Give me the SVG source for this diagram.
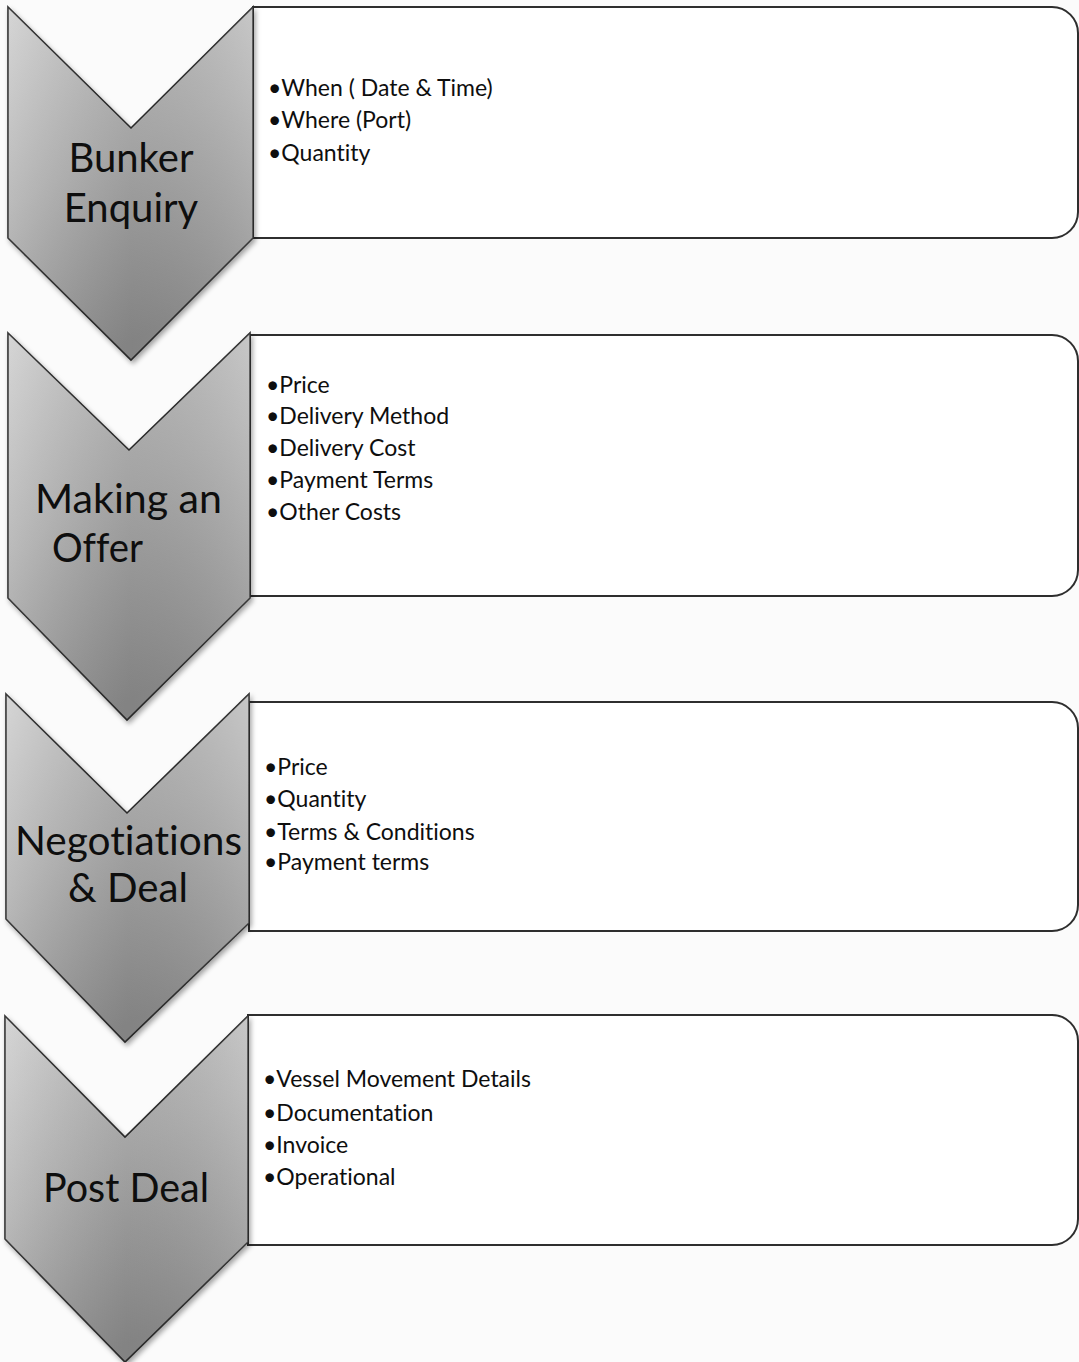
<svg xmlns="http://www.w3.org/2000/svg" width="1079" height="1362" viewBox="0 0 1079 1362">
  <defs>
    <linearGradient id="chev" x1="0" y1="0" x2="0.35" y2="1">
      <stop offset="0" stop-color="#d0d0d0"/>
      <stop offset="0.5" stop-color="#b2b2b2"/>
      <stop offset="1" stop-color="#8e8e8e"/>
    </linearGradient>
    <linearGradient id="streak" x1="0" y1="0" x2="1" y2="0">
      <stop offset="0" stop-color="#ffffff" stop-opacity="0.12"/>
      <stop offset="0.5" stop-color="#000000" stop-opacity="0.08"/>
      <stop offset="1" stop-color="#ffffff" stop-opacity="0.15"/>
    </linearGradient>
    <filter id="shadow" x="-10%" y="-10%" width="130%" height="130%">
      <feDropShadow dx="2" dy="3" stdDeviation="2.5" flood-color="#000" flood-opacity="0.35"/>
    </filter>
  </defs>
  <style>
    .box { fill: #ffffff; stroke: #2e2e2e; stroke-width: 2; }
    .chev { fill: url(#chev); stroke: #2a2a2a; stroke-width: 1.6; stroke-linejoin: miter; }
    .chevhl { fill: url(#streak); stroke: none; }
    .title { font-family: Lato, "Open Sans", sans-serif; font-size: 40px; fill: #0e0e0e; font-variant-ligatures: none; }
    .item { font-family: Lato, "Open Sans", sans-serif; font-size: 23px; fill: #0e0e0e; font-variant-ligatures: none; }
  </style>
  <rect x="0" y="0" width="1079" height="1362" fill="#fbfbfb"/>

  <g id="connectors"></g>

  <!-- Step 1 -->
  <g id="box1">
    <path class="box" d="M253,7 H1052 A26,26 0 0 1 1078,33 V212 A26,26 0 0 1 1052,238 H253 Z"/>
    <text class="item" x="268" y="96">•When ( Date &amp; Time)</text>
    <text class="item" x="268" y="128">•Where (Port)</text>
    <text class="item" x="268" y="161">•Quantity</text>
  </g>
  <g id="chevron1">
    <path class="chev" filter="url(#shadow)" d="M8,7 L131,128 L253,7 L253,238 L131,360 L8,238 Z"/>
    <path class="chevhl" d="M8,7 L131,128 L253,7 L253,238 L131,360 L8,238 Z"/>
    <text class="title" x="131" y="172" text-anchor="middle">Bunker</text>
    <text class="title" x="131" y="222" text-anchor="middle">Enquiry</text>
  </g>

  <!-- Step 2 -->
  <g id="box2">
    <path class="box" d="M250,335 H1052 A26,26 0 0 1 1078,361 V570 A26,26 0 0 1 1052,596 H250 Z"/>
    <text class="item" x="266" y="393">•Price</text>
    <text class="item" x="266" y="424">•Delivery Method</text>
    <text class="item" x="266" y="456">•Delivery Cost</text>
    <text class="item" x="266" y="488">•Payment Terms</text>
    <text class="item" x="266" y="520">•Other Costs</text>
  </g>
  <g id="chevron2">
    <path class="chev" filter="url(#shadow)" d="M8,333 L129,450 L250,333 L250,598 L127,720 L8,598 Z"/>
    <path class="chevhl" d="M8,333 L129,450 L250,333 L250,598 L127,720 L8,598 Z"/>
    <text class="title" x="35" y="513" textLength="187" lengthAdjust="spacingAndGlyphs">Making an</text>
    <text class="title" x="52" y="562" textLength="91" lengthAdjust="spacingAndGlyphs">Offer</text>
  </g>

  <!-- Step 3 -->
  <g id="box3">
    <path class="box" d="M249,702 H1052 A26,26 0 0 1 1078,728 V905 A26,26 0 0 1 1052,931 H249 Z"/>
    <text class="item" x="264" y="775">•Price</text>
    <text class="item" x="264" y="807">•Quantity</text>
    <text class="item" x="264" y="840">•Terms &amp; Conditions</text>
    <text class="item" x="264" y="870">•Payment terms</text>
  </g>
  <g id="chevron3">
    <path class="chev" filter="url(#shadow)" d="M6,694 L127,813 L249,694 L249,923 L125,1042 L6,919 Z"/>
    <path class="chevhl" d="M6,694 L127,813 L249,694 L249,923 L125,1042 L6,919 Z"/>
    <text class="title" x="15" y="855" textLength="227" lengthAdjust="spacingAndGlyphs">Negotiations</text>
    <text class="title" x="68" y="902" textLength="120" lengthAdjust="spacingAndGlyphs">&amp; Deal</text>
  </g>

  <!-- Step 4 -->
  <g id="box4">
    <path class="box" d="M248,1015 H1052 A26,26 0 0 1 1078,1041 V1219 A26,26 0 0 1 1052,1245 H248 Z"/>
    <text class="item" x="263" y="1087">•Vessel Movement Details</text>
    <text class="item" x="263" y="1121">•Documentation</text>
    <text class="item" x="263" y="1153">•Invoice</text>
    <text class="item" x="263" y="1185">•Operational</text>
  </g>
  <g id="chevron4">
    <path class="chev" filter="url(#shadow)" d="M5,1016 L125,1137 L248,1016 L248,1242 L125,1362 L5,1239 Z"/>
    <path class="chevhl" d="M5,1016 L125,1137 L248,1016 L248,1242 L125,1362 L5,1239 Z"/>
    <text class="title" x="43" y="1202" textLength="166" lengthAdjust="spacingAndGlyphs">Post Deal</text>
  </g>
</svg>
